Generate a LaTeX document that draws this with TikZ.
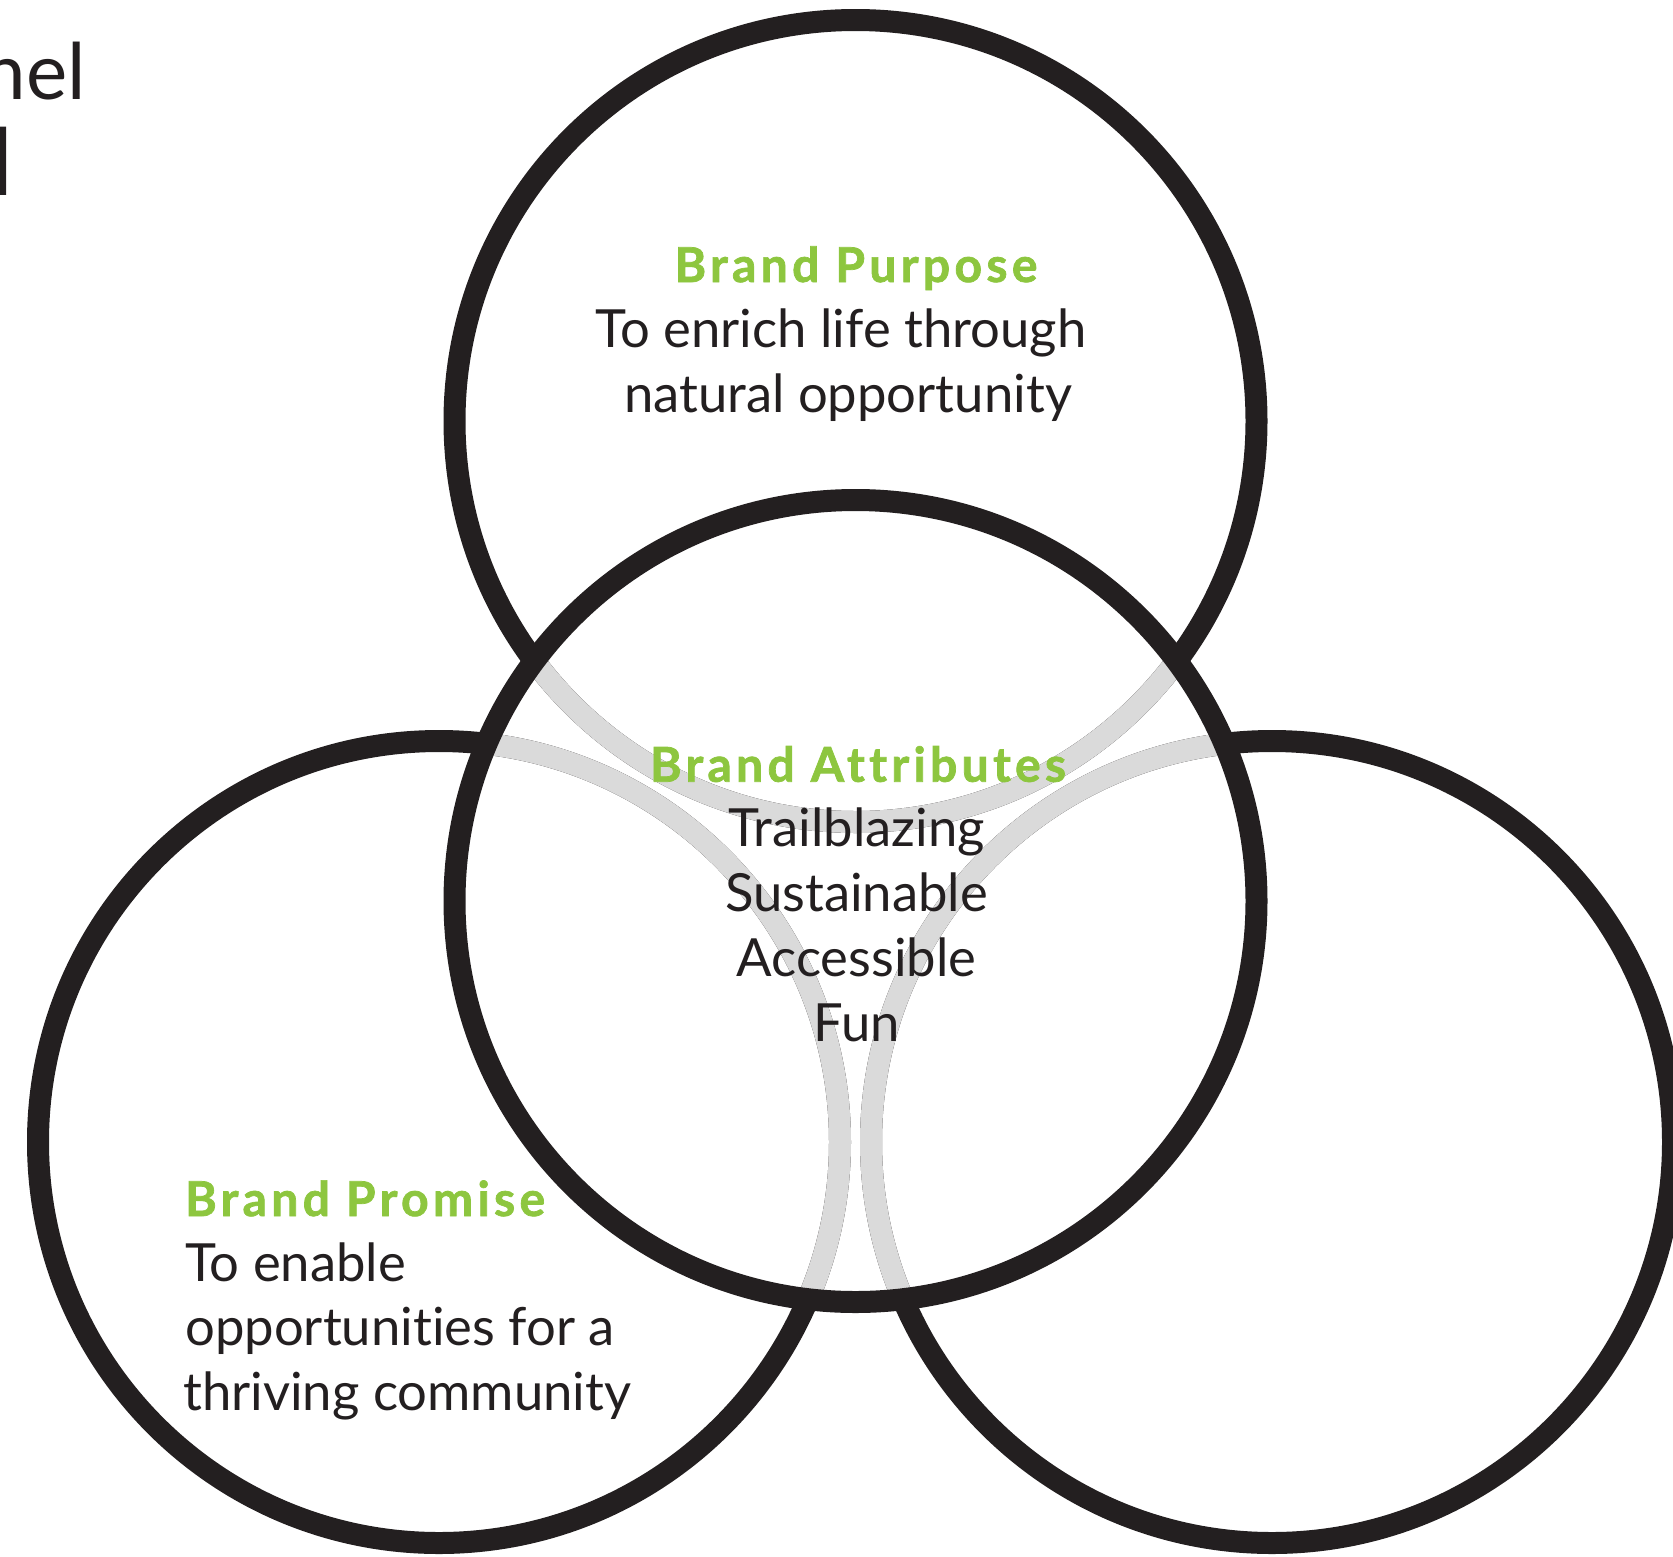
\documentclass[tikz,border=0pt]{standalone}
\usepackage{fontspec}
\setmainfont{Lato}[Ligatures={NoCommon}]
\newfontfamily\headfont{Lato}[Ligatures={NoCommon}, BoldFont={* Bold}, LetterSpace=9, FakeBold=1.5]
\definecolor{vgreen}{RGB}{141,198,63}
\definecolor{vblack}{RGB}{35,31,32}
\definecolor{vgrey}{RGB}{218,218,218}
\begin{document}
\begin{tikzpicture}[x=1pt,y=-1pt,
  ring/.style={line width=22pt, draw=vblack},
  ghost/.style={line width=22pt, draw=vgrey},
  head/.style={inner sep=0pt, text=vgreen, font=\headfont\bfseries\fontsize{48}{57}\selectfont},
  body/.style={inner sep=0pt, text=vblack, font=\fontsize{52.6}{63}\selectfont}]
\useasboundingbox (0,0) rectangle (1673,1556);
\coordinate (ctop) at (855.5,421);
\coordinate (cmid) at (855.5,901);
\coordinate (cleft) at (439,1142);
\coordinate (cright) at (1272,1142);
% outer rings
\draw[ring] (ctop) circle[radius=401];
\draw[ring] (cleft) circle[radius=401];
\draw[ring] (cright) circle[radius=401];
% parts behind the middle ring
\begin{scope}
  \clip (cmid) circle[radius=401];
  \draw[ghost] (ctop) circle[radius=401];
  \draw[ghost] (cleft) circle[radius=401];
  \draw[ghost] (cright) circle[radius=401];
\end{scope}
\draw[ring] (cmid) circle[radius=401];
% cut-off title
\node[inner sep=0pt, anchor=base east, text=vblack, font=\fontsize{78}{90}\selectfont] (title1) at (86,99) {nel};
\node[inner sep=0pt, anchor=base east, text=vblack, font=\bfseries\fontsize{92}{100}\selectfont] (title2) at (13,195) {l};
% Brand Purpose
\node[head, anchor=base] (purposeHead) at (856,282) {Brand Purpose};
\node[body, anchor=base] (purposeA) at (841,347.7) {To enrich life through};
\node[body, anchor=base] (purposeB) at (848,412.7) {natural opportunity};
% Brand Attributes
\node[head, anchor=base] (attrHead) at (858,781.7) {Brand Attributes};
\node[body, anchor=base] (attrA) at (856.5,846.7) {Trailblazing};
\node[body, anchor=base] (attrB) at (856.5,911.7) {Sustainable};
\node[body, anchor=base] (attrC) at (856.5,976.7) {Accessible};
\node[body, anchor=base] (attrD) at (856.5,1041.7) {Fun};
% Brand Promise
\node[head, anchor=base west] (promHead) at (185,1216) {Brand Promise};
\node[body, anchor=base west] (promA) at (185,1281) {To enable};
\node[body, anchor=base west] (promB) at (185,1345.5) {opportunities for a};
\node[body, anchor=base west] (promC) at (183,1410) {thriving community};
\end{tikzpicture}
\end{document}
